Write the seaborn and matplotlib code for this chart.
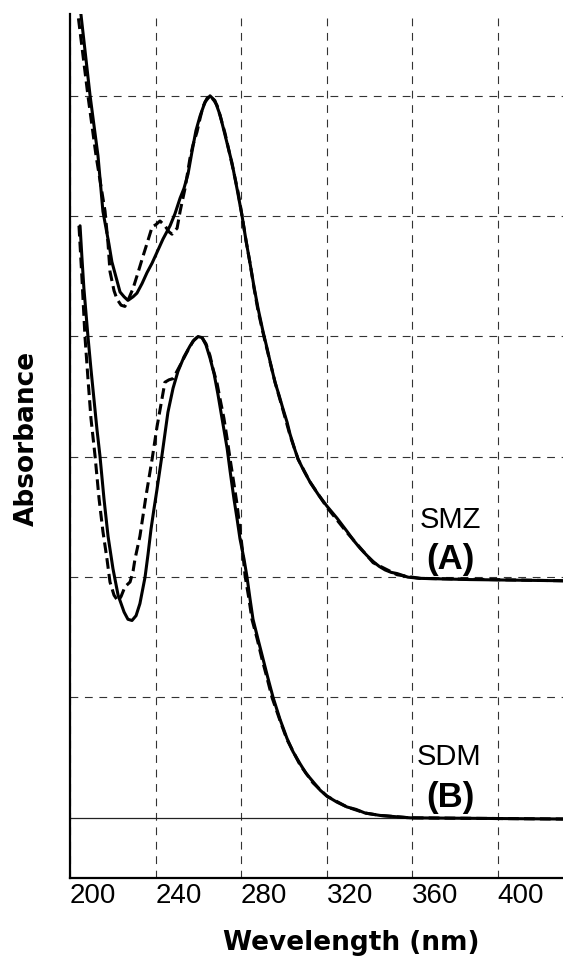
import matplotlib
matplotlib.use("Agg")
import matplotlib.pyplot as plt
import seaborn as sns

# UV spectra: SMZ (A) sits 2 units up, SDM (B) on the 0 line
smz_solid_nm = [203.3, 205.1, 209.4, 213.1, 215.4, 218.2, 219.6, 223.4, 225.3, 227.1, 229.5,
                231.3, 233.7, 236.0, 238.4, 240.7, 243.5, 246.8, 249.1, 251.5, 253.3, 255.2,
                257.1, 258.9, 260.8, 263.2, 265.5, 267.8, 270.2, 273.0, 275.8, 278.1, 280.5,
                282.3, 284.2, 286.1, 288.0, 290.3, 292.2, 294.0, 295.9, 297.8, 299.6, 301.5,
                302.9, 304.8, 306.7, 309.5, 312.3, 316.0, 320.2, 324.9, 329.6, 332.9, 335.7,
                338.9, 341.8, 344.6, 347.4, 350.2, 353.0, 358.1, 363.7, 387.1, 430.6]
smz_solid_abs = [6.77, 6.68, 6.00, 5.50, 5.04, 4.77, 4.62, 4.37, 4.33, 4.30, 4.33,
                 4.36, 4.44, 4.53, 4.61, 4.70, 4.81, 4.92, 5.02, 5.15, 5.23, 5.35,
                 5.54, 5.71, 5.83, 5.95, 6.00, 5.96, 5.84, 5.64, 5.44, 5.23, 5.00,
                 4.80, 4.61, 4.41, 4.23, 4.04, 3.90, 3.76, 3.62, 3.51, 3.40, 3.29,
                 3.19, 3.08, 2.98, 2.88, 2.79, 2.69, 2.59, 2.49, 2.38, 2.30, 2.24,
                 2.18, 2.13, 2.09, 2.06, 2.04, 2.03, 2.00, 1.99, 1.98, 1.97]

smz_dash_nm = [201.9, 203.7, 208.4, 212.2, 216.4, 217.8, 218.7, 220.6, 222.0, 223.9, 225.7,
               227.6, 229.5, 231.8, 234.2, 236.5, 238.4, 240.2, 242.1, 244.4, 246.3, 247.7,
               249.1, 250.1, 251.5, 253.8, 256.1, 257.5, 259.4, 260.8, 262.2, 264.1, 265.5,
               267.4, 268.8, 270.6, 272.5, 274.4, 276.3, 278.6, 280.5, 282.3, 284.2, 286.1,
               288.0, 290.3, 292.2, 295.9, 299.6, 302.9, 306.7, 312.3, 320.2, 329.6, 341.8,
               353.0, 363.7, 430.6]
smz_dash_abs = [6.77, 6.68, 6.00, 5.50, 5.04, 4.77, 4.54, 4.38, 4.31, 4.26, 4.25,
                4.32, 4.40, 4.53, 4.67, 4.80, 4.91, 4.93, 4.96, 4.92, 4.87, 4.85,
                4.88, 4.90, 5.04, 5.23, 5.48, 5.59, 5.70, 5.81, 5.91, 5.98, 6.00,
                5.96, 5.92, 5.81, 5.69, 5.54, 5.39, 5.20, 5.00, 4.80, 4.61, 4.40,
                4.21, 4.03, 3.89, 3.62, 3.39, 3.18, 2.98, 2.79, 2.58, 2.37, 2.12,
                2.02, 1.99, 1.97]

sdm_solid_nm = [204.7, 205.6, 206.5, 207.5, 208.4, 209.8, 211.2, 212.6, 214.0, 215.9, 217.8,
                220.1, 222.5, 225.3, 227.1, 229.0, 230.9, 232.7, 235.1, 236.5, 237.9, 239.3,
                240.7, 243.0, 244.4, 245.8, 248.2, 250.5, 253.3, 256.1, 258.0, 259.9, 261.8,
                263.6, 265.5, 267.4, 269.2, 271.1, 273.5, 274.9, 276.7, 278.1, 279.5, 281.4,
                282.8, 284.2, 285.6, 288.0, 290.3, 292.6, 295.0, 298.2, 301.5, 304.3, 307.6,
                310.4, 313.7, 317.0, 320.2, 324.9, 329.6, 333.8, 338.0, 345.0, 352.0, 359.1,
                430.6]
sdm_solid_abs = [4.92, 4.65, 4.40, 4.19, 4.00, 3.73, 3.48, 3.23, 3.01, 2.65, 2.34,
                 2.07, 1.85, 1.71, 1.65, 1.64, 1.68, 1.78, 2.00, 2.19, 2.40, 2.57,
                 2.73, 3.01, 3.19, 3.37, 3.57, 3.71, 3.83, 3.92, 3.97, 4.00, 3.99,
                 3.93, 3.82, 3.69, 3.52, 3.32, 3.07, 2.88, 2.65, 2.49, 2.32, 2.15,
                 2.00, 1.82, 1.65, 1.48, 1.32, 1.16, 1.00, 0.82, 0.66, 0.55, 0.45,
                 0.37, 0.30, 0.23, 0.18, 0.13, 0.09, 0.07, 0.04, 0.02, 0.01, 0.00,
                 -0.01]

sdm_dash_nm = [204.2, 205.6, 207.0, 208.4, 209.8, 211.7, 213.6, 215.4, 217.3, 218.7, 220.6,
               222.5, 223.9, 225.7, 228.1, 229.5, 230.4, 232.7, 235.6, 238.4, 240.7, 243.0,
               244.4, 246.3, 248.2, 251.5, 254.7, 257.5, 259.9, 261.8, 263.6, 265.5, 266.9,
               268.8, 270.2, 272.0, 273.5, 274.9, 276.3, 278.1, 279.5, 280.9, 281.9, 283.7,
               285.1, 287.5, 289.8, 292.2, 294.5, 298.2, 301.5, 307.6, 313.7, 320.2, 329.6,
               338.0, 345.0, 359.1, 430.6]
sdm_dash_abs = [4.92, 4.48, 4.00, 3.65, 3.32, 3.01, 2.65, 2.38, 2.15, 1.96, 1.85,
                1.80, 1.84, 1.92, 1.96, 2.05, 2.15, 2.34, 2.68, 2.98, 3.25, 3.48,
                3.62, 3.64, 3.65, 3.76, 3.87, 3.96, 4.00, 3.99, 3.94, 3.84, 3.73,
                3.61, 3.48, 3.32, 3.15, 2.98, 2.82, 2.61, 2.40, 2.19, 2.01, 1.82,
                1.65, 1.49, 1.32, 1.16, 1.00, 0.81, 0.65, 0.44, 0.29, 0.18, 0.09,
                0.04, 0.02, 0.00, -0.01]

x_ticks = [200, 240, 280, 320, 360, 400]
y_grid = [1, 2, 3, 4, 5, 6]

sns.set_style("white")
plt.rcParams["font.family"] = ["DejaVu Sans"]
plt.rcParams["text.color"] = "black"
plt.rcParams["axes.labelcolor"] = "black"
plt.rcParams["xtick.color"] = "black"

fig = plt.figure(figsize=(5.63, 9.62), dpi=100)
ax = fig.add_axes([70 / 563, 83 / 962, 493 / 563, 864 / 962])

LW = 2.2
DASH = (0, (3.5, 1.7))
sns.lineplot(x=smz_solid_nm, y=smz_solid_abs, ax=ax, color="black", lw=LW)
sns.lineplot(x=smz_dash_nm, y=smz_dash_abs, ax=ax, color="black", lw=LW, linestyle=DASH)
sns.lineplot(x=sdm_solid_nm, y=sdm_solid_abs, ax=ax, color="black", lw=LW)
sns.lineplot(x=sdm_dash_nm, y=sdm_dash_abs, ax=ax, color="black", lw=LW, linestyle=DASH)

ax.set_xlim(200, 430.6)
ax.set_ylim(-0.5, 6.68)
ax.set_xticks(x_ticks)
ax.set_xticklabels([str(t) for t in x_ticks], ha="left",
                   family="Liberation Sans", fontsize=20)
ax.set_yticks(y_grid)
ax.set_yticklabels([])
ax.tick_params(axis="both", length=0, pad=3)
ax.grid(True, color="#333333", lw=0.8, linestyle=(0, (7, 6)))
ax.axhline(0, color="#222222", lw=0.9, zorder=1)

for side in ["top", "right"]:
    ax.spines[side].set_visible(False)
for side in ["left", "bottom"]:
    ax.spines[side].set_color("black")
    ax.spines[side].set_linewidth(1.6)

ax.text(378, 2.42, "SMZ", ha="center", va="baseline", fontsize=21, family="Liberation Sans")
ax.text(378, 2.08, "(A)", ha="center", va="baseline", fontsize=25, fontweight="bold",
        family="Liberation Sans")
ax.text(377.5, 0.45, "SDM", ha="center", va="baseline", fontsize=21, family="Liberation Sans")
ax.text(378, 0.1, "(B)", ha="center", va="baseline", fontsize=25, fontweight="bold",
        family="Liberation Sans")

ax.set_xlabel("Wevelength (nm)", fontsize=19, fontweight="bold", va="center")
ax.xaxis.set_label_coords(0.570, -0.074)
ax.set_ylabel("Absorbance", fontsize=19, fontweight="bold", va="center")
ax.yaxis.set_label_coords(-0.087, 0.51)

fig.savefig("out.png", dpi=100)
